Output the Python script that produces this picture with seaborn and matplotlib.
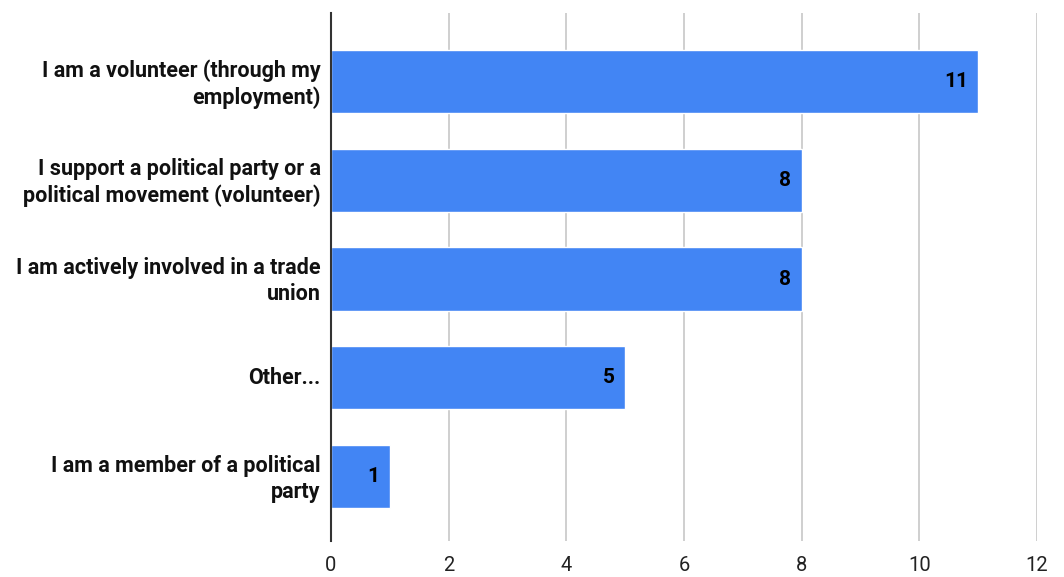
import matplotlib
matplotlib.use("Agg")
import matplotlib.pyplot as plt
import matplotlib.transforms as mtransforms
import seaborn as sns
import pandas as pd

categories = [
    "I am a volunteer (through my\nemployment)",
    "I support a political party or a\npolitical movement (volunteer)",
    "I am actively involved in a trade\nunion",
    "Other...",
    "I am a member of a political\nparty",
]
counts = [11, 8, 8, 5, 1]
x_ticks = [0, 2, 4, 6, 8, 10, 12]

bar_color = "#4285F4"

sns.set_theme(style="white")
plt.rcParams["font.family"] = ["Roboto", "DejaVu Sans"]

df = pd.DataFrame({"category": categories, "count": counts})

fig = plt.figure(figsize=(10.64, 5.77), dpi=100)
ax = fig.add_axes([331 / 1064, 1 - 541 / 577, (1037 - 331) / 1064, (541 - 13) / 577])

sns.barplot(data=df, x="count", y="category", orient="h", color=bar_color,
            saturation=1, width=0.64, ax=ax, zorder=3)

ax.set_xlim(0, 12)
ax.set_ylim(4.653, -0.694)
ax.set_xticks(x_ticks)
ax.set_xticklabels([str(t) for t in x_ticks], fontsize=14.5, color="#222222")
ax.tick_params(axis="x", length=0, pad=11)
ax.tick_params(axis="y", length=0, pad=7.5)

# nudge the wrapped category labels up slightly so both lines sit centred on the bar
lift = mtransforms.ScaledTranslation(0, 2.5 / 100, fig.dpi_scale_trans)
for lbl in ax.get_yticklabels():
    lbl.set_fontweight("bold")
    lbl.set_fontsize(15.5)
    lbl.set_color("#111111")
    lbl.set_linespacing(1.25)
    lbl.set_horizontalalignment("right")
    lbl.set_multialignment("right")
    lbl.set_transform(lbl.get_transform() + lift)

ax.xaxis.grid(True, color="#cccccc", linewidth=1.3, zorder=0)
ax.set_axisbelow(True)
for side in ["top", "right", "bottom"]:
    ax.spines[side].set_visible(False)
ax.spines["left"].set_color("#333333")
ax.spines["left"].set_linewidth(1.5)
ax.spines["left"].set_zorder(5)
ax.set_xlabel("")
ax.set_ylabel("")

for i, v in enumerate(counts):
    ax.annotate(str(v), xy=(v, i), xytext=(-7.5, 0), textcoords="offset points",
                ha="right", va="center", fontsize=15, fontweight="bold",
                color="#000000", zorder=6)

fig.savefig("out.png", dpi=100, facecolor="white")
